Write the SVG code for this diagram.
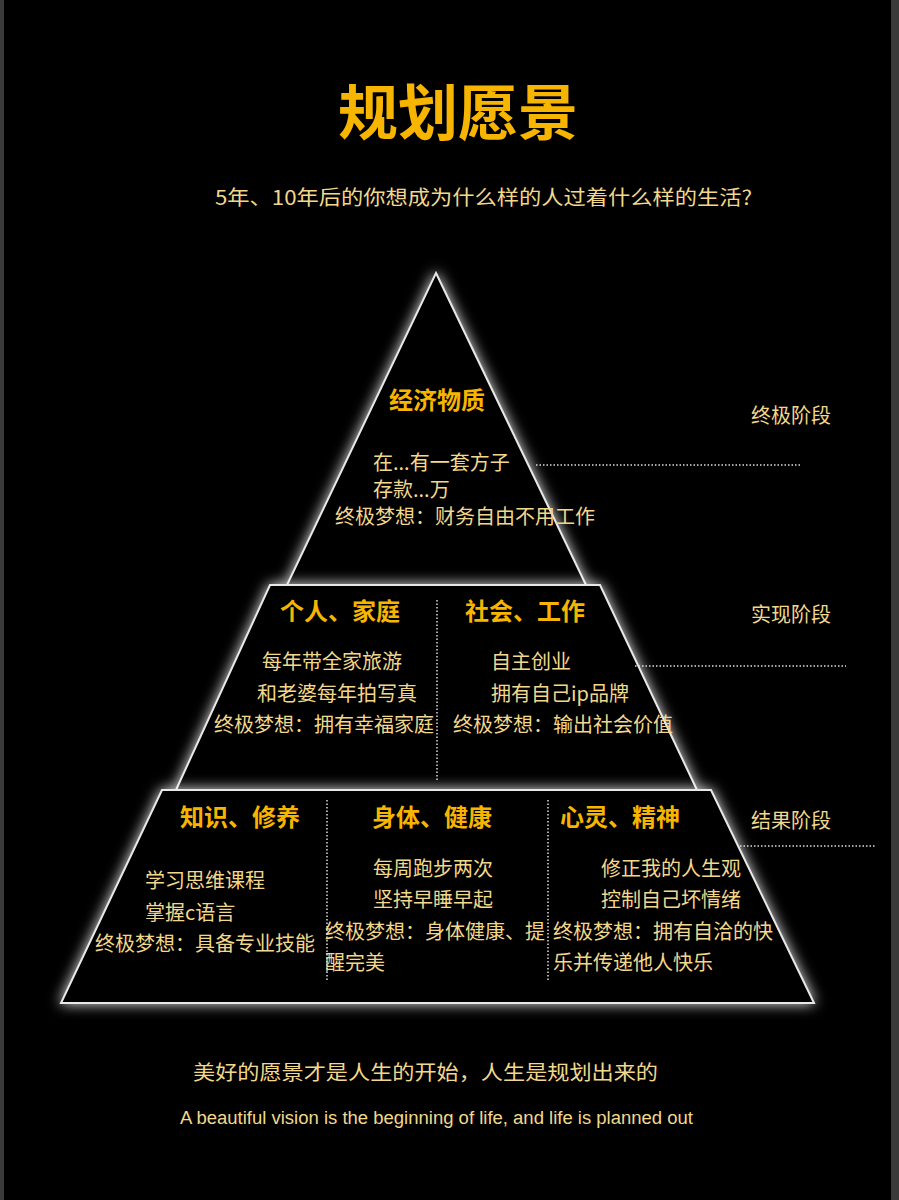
<svg xmlns="http://www.w3.org/2000/svg" width="899" height="1200" viewBox="0 0 899 1200">
<defs>
<filter id="glow" x="-20%" y="-20%" width="140%" height="140%">
<feGaussianBlur in="SourceAlpha" stdDeviation="7" result="b"/>
<feFlood flood-color="#ffffff" flood-opacity="0.9"/>
<feComposite in2="b" operator="in" result="g"/>
<feMerge><feMergeNode in="g"/><feMergeNode in="SourceGraphic"/></feMerge>
</filter>
<style>
.shape{fill:#000;stroke:#e8e8e8;stroke-width:2;filter:url(#glow)}
.t{font-family:"Noto Sans CJK SC","Noto Sans",sans-serif;fill:#f2d88c;font-size:20px}
.h{font-family:"Noto Sans CJK SC","Noto Sans",sans-serif;fill:#f7b500;font-size:24px;font-weight:bold}
.div{stroke:#ddd;stroke-width:1.5;stroke-dasharray:1.5 2}
</style>
</defs>
<rect width="899" height="1200" fill="#000"/>
<rect x="0" y="0" width="4" height="1200" fill="#3a3a3a"/>
<rect x="891" y="0" width="8" height="1200" fill="#3a3a3a"/>
<text x="458" y="135" text-anchor="middle" font-family="Noto Sans CJK SC,sans-serif" font-size="60" font-weight="bold" fill="#f7b500">规划愿景</text>
<text x="215" y="205" class="t" font-size="21" textLength="537" lengthAdjust="spacingAndGlyphs">5年、10年后的你想成为什么样的人过着什么样的生活?</text>
<g id="top"><polygon class="shape" points="436,273 586,585 287,585"/>
<text x="437" y="409" text-anchor="middle" class="h" font-size="22">经济物质</text>
<text x="373" y="470" class="t" font-size="16">在...有一套方子</text>
<text x="373" y="497" class="t" font-size="16">存款...万</text>
<text x="335" y="524" class="t" font-size="16">终极梦想：财务自由不用工作</text></g>
<g id="middle"><polygon class="shape" points="270,585 600,585 697,790 176,790"/>
<text x="340" y="620" text-anchor="middle" class="h">个人、家庭</text>
<text x="525" y="620" text-anchor="middle" class="h">社会、工作</text>
<text x="262" y="669" class="t">每年带全家旅游</text>
<text x="257" y="701" class="t">和老婆每年拍写真</text>
<text x="214" y="732" class="t">终极梦想：拥有幸福家庭</text>
<text x="491" y="669" class="t">自主创业</text>
<text x="491" y="701" class="t">拥有自己ip品牌</text>
<text x="453" y="732" class="t">终极梦想：输出社会价值</text></g>
<g id="bottom"><polygon class="shape" points="162,790 711,790 814,1003 61,1003"/>
<text x="240" y="826" text-anchor="middle" class="h">知识、修养</text>
<text x="432" y="826" text-anchor="middle" class="h">身体、健康</text>
<text x="620" y="826" text-anchor="middle" class="h">心灵、精神</text>
<text x="145" y="888" class="t">学习思维课程</text>
<text x="145" y="920" class="t">掌握c语言</text>
<text x="95" y="951" class="t">终极梦想：具备专业技能</text>
<text x="373" y="876" class="t">每周跑步两次</text>
<text x="373" y="907" class="t">坚持早睡早起</text>
<text x="325" y="939" class="t">终极梦想：身体健康、提</text>
<text x="325" y="970" class="t">醒完美</text>
<text x="601" y="876" class="t">修正我的人生观</text>
<text x="601" y="907" class="t">控制自己坏情绪</text>
<text x="553" y="939" class="t">终极梦想：拥有自洽的快</text>
<text x="553" y="970" class="t">乐并传递他人快乐</text></g>
<g id="connectors">
<line class="div" x1="437" y1="600" x2="437" y2="780"/>
<line class="div" x1="327" y1="800" x2="327" y2="982"/>
<line class="div" x1="548" y1="800" x2="548" y2="982"/>
<line class="div" x1="536" y1="465" x2="800" y2="465"/>
<line class="div" x1="635" y1="666" x2="846" y2="666"/>
<line class="div" x1="740" y1="846" x2="876" y2="846"/>
</g>
<g id="labels">
<text x="751" y="423" class="t">终极阶段</text>
<text x="751" y="622" class="t">实现阶段</text>
<text x="751" y="828" class="t">结果阶段</text>
</g>
<text x="193" y="1080" class="t" font-size="22" textLength="465" lengthAdjust="spacingAndGlyphs">美好的愿景才是人生的开始，人生是规划出来的</text>
<text x="180" y="1124" font-family="Liberation Sans,Arial,sans-serif" font-size="18" fill="#f2d88c" textLength="513" lengthAdjust="spacingAndGlyphs">A beautiful vision is the beginning of life, and life is planned out</text>
</svg>
